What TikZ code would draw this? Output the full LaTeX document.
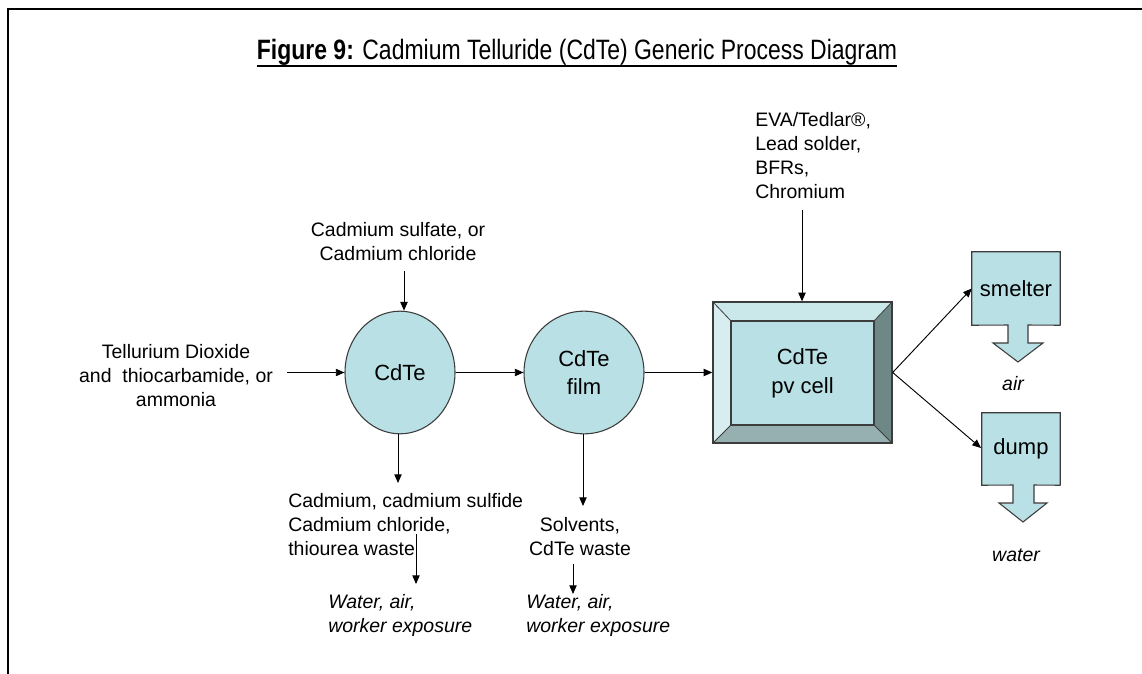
\documentclass[tikz,border=0pt]{standalone}
\usepackage{fontspec}
\setmainfont{Liberation Sans}
\newfontfamily\titlefont[FakeStretch=0.82]{Liberation Sans}
\usetikzlibrary{arrows.meta,shapes.geometric}
\definecolor{cyanbox}{RGB}{185,224,228}
\definecolor{bevtop}{RGB}{202,231,234}
\definecolor{bevleft}{RGB}{216,237,240}
\definecolor{bevright}{RGB}{110,136,136}
\definecolor{bevbot}{RGB}{150,176,178}
\definecolor{edge}{RGB}{60,60,60}
\tikzset{
  lbl/.style={inner sep=0pt, font=\fontsize{14.6}{18}\selectfont, align=center},
  lbll/.style={lbl, align=left, anchor=west},
  itl/.style={lbll, font=\fontsize{14.6}{18}\selectfont\itshape},
  proc/.style={ellipse, fill=cyanbox, draw=edge, line width=0.8pt, inner sep=0pt,
     font=\fontsize{16.5}{21.5}\selectfont, align=center},
  flow/.style={-{Triangle[length=6.5pt,width=5.5pt]}, line width=0.7pt},
  sink/.style={fill=cyanbox, inner sep=0pt, font=\fontsize{16.5}{21}\selectfont}
}
\begin{document}
\begin{tikzpicture}[x=0.75pt,y=-0.75pt]
\useasboundingbox (0,0) rectangle (1142,674);
% frame
\draw[line width=1.6pt] (8,674) -- (8,9) -- (1142,9);
% title
\node[inner sep=0pt] (title) at (577,52) {\fontsize{21}{24}\titlefont\textbf{Figure 9:} Cadmium Telluride (CdTe) Generic Process Diagram};
\draw[line width=1.4pt] ([yshift=-5pt]title.base west) -- ([yshift=-5pt]title.base east);

% process nodes
\node[proc, minimum width=82.5pt, minimum height=92pt] (c1) at (400,372.5) {CdTe};
\node[proc, minimum width=90pt, minimum height=92pt] (c2) at (584,372.5) {CdTe\\film};

% pv cell (bevelled box)
\coordinate (o1) at (713,302); \coordinate (o2) at (892,302);
\coordinate (o3) at (892,443); \coordinate (o4) at (713,443);
\coordinate (i1) at (731,321); \coordinate (i2) at (874,321);
\coordinate (i3) at (874,425); \coordinate (i4) at (731,425);
\fill[bevtop] (o1) -- (o2) -- (i2) -- (i1) -- cycle;
\fill[bevright] (o2) -- (o3) -- (i3) -- (i2) -- cycle;
\fill[bevbot] (o3) -- (o4) -- (i4) -- (i3) -- cycle;
\fill[bevleft] (o4) -- (o1) -- (i1) -- (i4) -- cycle;
\node[fill=cyanbox, draw=edge, line width=0.8pt, minimum width=107.25pt, minimum height=78pt,
      inner sep=0pt, font=\fontsize{16.5}{21.5}\selectfont, align=center] (pv) at (802.5,373) {CdTe\\pv cell};
\draw[edge, line width=0.6pt] (o1) -- (i1) (o2) -- (i2) (o3) -- (i3) (o4) -- (i4);
\node[draw=edge, line width=1pt, minimum width=134.25pt, minimum height=105.75pt, inner sep=0pt] (pvout) at (802.5,372.5) {};

% sinks
\node[sink, minimum width=66pt, minimum height=54.75pt] (smelter) at (1016,288.5) {smelter};
\fill[cyanbox] (1008,324) rectangle (1028,343);
\fill[cyanbox] (993,343) -- (1043,343) -- (1018,362) -- cycle;
\draw[edge, line width=0.8pt] (smelter.south east) -- (smelter.north east) -- (smelter.north west) -- (smelter.south west) -- (1008,325) -- (1008,343) -- (993,343) -- (1018,362) -- (1043,343) -- (1028,343) -- (1028,325) -- (smelter.south east);

\node[sink, minimum width=58.5pt, minimum height=54pt] (dump) at (1021,449) {dump};
\fill[cyanbox] (1013,484) rectangle (1034,503);
\fill[cyanbox] (999,503) -- (1047,503) -- (1023,522) -- cycle;
\draw[edge, line width=0.8pt] (dump.south east) -- (dump.north east) -- (dump.north west) -- (dump.south west) -- (1013,485) -- (1013,503) -- (999,503) -- (1023,522) -- (1047,503) -- (1034,503) -- (1034,485) -- (dump.south east);

\node[itl, anchor=center] (air) at (1013,384) {air};
\node[itl, anchor=center] (water) at (1016,555) {water};

% inputs
\node[lbl] (tell) at (176,376) {Tellurium Dioxide\\and\ \ thiocarbamide, or\\ammonia};
\node[lbl] (cds) at (398,242) {Cadmium sulfate, or\\Cadmium chloride};
\node[lbll] (eva) at (755,156) {EVA/Tedlar\textregistered,\\Lead solder,\\BFRs,\\Chromium};

% outputs
\node[lbll] (w1) at (288,524.5) {Cadmium, cadmium sulfide\\Cadmium chloride,\\thiourea waste};
\node[itl] (x1) at (328,615) {Water, air,\\worker exposure};
\node[lbl] (w2) at (580,536.5) {Solvents,\\CdTe waste};
\node[itl] (x2) at (526,615) {Water, air,\\worker exposure};

% connectors
\coordinate (tellE) at (287,372.5);
\draw[flow] (tellE) -- (c1.west);
\coordinate (cdsS) at (404,271);
\draw[flow] (cdsS) -- (cdsS |- c1.north);
\draw[flow] (c1.east) -- (c2.west);
\draw[flow] (c2.east) -- (pvout.west);
\coordinate (evaS) at (802,210);
\draw[flow] (evaS) -- (evaS |- pvout.north);
\draw[flow] (pvout.east) -- (smelter.west);
\coordinate (dumpIn) at (981,448);
\draw[flow] (pvout.east) -- (dumpIn);
\coordinate (w1top) at (398,483);
\draw[flow] (w1top |- c1.south) -- (w1top);
\coordinate (w1a) at (416,534); \coordinate (w1b) at (416,584);
\draw[flow] (w1a) -- (w1b);
\coordinate (w2top) at (583,506);
\draw[flow] (w2top |- c2.south) -- (w2top);
\coordinate (w2a) at (573,564); \coordinate (w2b) at (573,594);
\draw[flow] (w2a) -- (w2b);
\end{tikzpicture}
\end{document}
